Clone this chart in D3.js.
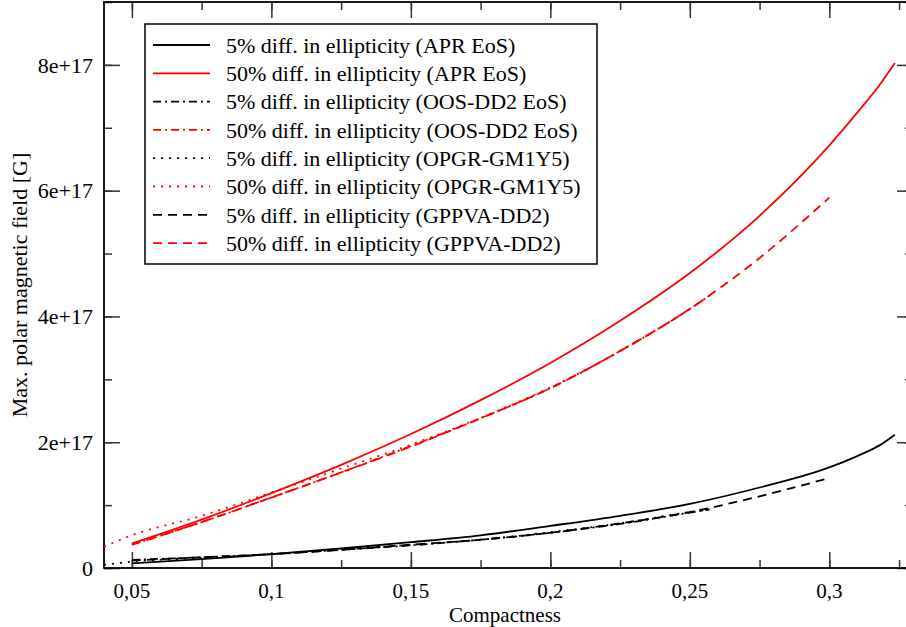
<!DOCTYPE html>
<html>
<head>
<meta charset="utf-8">
<script src="https://cdn.jsdelivr.net/npm/d3@7"></script>
<style>
  body { margin: 0; background: #fff; }
</style>
</head>
<body>
<div id="chart"></div>
<script>
// values in units of 1e17 G
const aprX      = [0.05, 0.075, 0.1, 0.125, 0.15, 0.175, 0.2, 0.225, 0.25, 0.275, 0.3, 0.31, 0.318, 0.3235];
const apr5      = [0.075, 0.14, 0.22, 0.31, 0.41, 0.52, 0.67, 0.83, 1.02, 1.28, 1.6, 1.78, 1.95, 2.12];
const apr50     = [0.39, 0.77, 1.19, 1.64, 2.13, 2.67, 3.26, 3.93, 4.69, 5.6, 6.72, 7.24, 7.68, 8.03];

const oosX      = [0.05, 0.075, 0.1, 0.125, 0.15, 0.175, 0.2, 0.225, 0.25, 0.257];
const oos5      = [0.13, 0.17, 0.22, 0.29, 0.36, 0.45, 0.56, 0.7, 0.88, 0.93];
const oos50     = [0.37, 0.73, 1.12, 1.52, 1.94, 2.38, 2.86, 3.45, 4.12, 4.33];

const opgrX     = [0.04, 0.05, 0.075, 0.1, 0.125, 0.15, 0.175, 0.2, 0.225, 0.25, 0.257];
const opgr5     = [0.05, 0.1, 0.16, 0.22, 0.29, 0.37, 0.45, 0.57, 0.71, 0.89, 0.93];
const opgr50    = [0.34, 0.52, 0.83, 1.2, 1.58, 1.96, 2.39, 2.87, 3.45, 4.12, 4.33];

const gppvaX    = [0.05, 0.075, 0.1, 0.125, 0.15, 0.175, 0.2, 0.225, 0.25, 0.275, 0.3];
const gppva5    = [0.12, 0.17, 0.22, 0.29, 0.37, 0.45, 0.56, 0.71, 0.89, 1.14, 1.43];
const gppva50   = [0.37, 0.73, 1.12, 1.52, 1.93, 2.38, 2.86, 3.45, 4.12, 4.93, 5.89];

const legendLabels = [
  "5% diff. in ellipticity (APR EoS)",
  "50% diff. in ellipticity (APR EoS)",
  "5% diff. in ellipticity (OOS-DD2 EoS)",
  "50% diff. in ellipticity (OOS-DD2 EoS)",
  "5% diff. in ellipticity (OPGR-GM1Y5)",
  "50% diff. in ellipticity (OPGR-GM1Y5)",
  "5% diff. in ellipticity (GPPVA-DD2)",
  "50% diff. in ellipticity (GPPVA-DD2)"
];

const xTicks = [0.05, 0.1, 0.15, 0.2, 0.25, 0.3];
const yTicks = [0, 2, 4, 6, 8];

const dashes = { solid: null, dashdot: "8,4,2,4", dotted: "2,6", dashed: "9,6" };

const series = [
  { x: aprX, y: apr5, color: "#000", dash: dashes.solid },
  { x: aprX, y: apr50, color: "#f00", dash: dashes.solid },
  { x: oosX, y: oos5, color: "#000", dash: dashes.dashdot },
  { x: oosX, y: oos50, color: "#f00", dash: dashes.dashdot },
  { x: opgrX, y: opgr5, color: "#000", dash: dashes.dotted },
  { x: opgrX, y: opgr50, color: "#f00", dash: dashes.dotted },
  { x: gppvaX, y: gppva5, color: "#000", dash: dashes.dashed },
  { x: gppvaX, y: gppva50, color: "#f00", dash: dashes.dashed }
];

const width = 906, height = 627;
const pl = 104, pr = 913, pt = 2, pb = 568;
const font = "'Liberation Serif', 'DejaVu Serif', 'Times New Roman', serif";

const svg = d3.select("#chart").append("svg")
  .attr("width", width).attr("height", height)
  .attr("font-family", font);

const x = d3.scaleLinear().domain([0.04, 0.33]).range([pl, pr]);
const y = d3.scaleLinear().domain([0, 9]).range([pb, pt]);

const fmtX = d => String(d).replace(".", ",");
const fmtY = d => d === 0 ? "0" : d + "e+17";

// clip for data
svg.append("clipPath").attr("id", "clip")
  .append("rect").attr("x", pl).attr("y", pt).attr("width", pr - pl).attr("height", pb - pt);

// axes (ticks inward on all sides)
const xMinor = d3.range(0.05, 0.331, 0.025);
const yMinor = d3.range(0, 9.01, 1);

svg.append("g").attr("transform", `translate(0,${pb})`)
  .call(d3.axisTop(x).tickValues(xTicks).tickSize(16).tickFormat(""));
svg.append("g").attr("transform", `translate(0,${pb})`)
  .call(d3.axisTop(x).tickValues(xMinor).tickSize(8).tickFormat(""));
svg.append("g").attr("transform", `translate(0,${pt})`)
  .call(d3.axisBottom(x).tickValues(xTicks).tickSize(16).tickFormat(""));
svg.append("g").attr("transform", `translate(0,${pt})`)
  .call(d3.axisBottom(x).tickValues(xMinor).tickSize(8).tickFormat(""));

svg.append("g").attr("transform", `translate(${pl},0)`)
  .call(d3.axisRight(y).tickValues(yTicks).tickSize(16).tickFormat(""));
svg.append("g").attr("transform", `translate(${pl},0)`)
  .call(d3.axisRight(y).tickValues(yMinor).tickSize(8).tickFormat(""));
svg.append("g").attr("transform", `translate(${pr},0)`)
  .call(d3.axisLeft(y).tickValues(yTicks).tickSize(16).tickFormat(""));
svg.append("g").attr("transform", `translate(${pr},0)`)
  .call(d3.axisLeft(y).tickValues(yMinor).tickSize(8).tickFormat(""));

svg.selectAll(".domain").remove();
svg.selectAll(".tick line").attr("stroke", "#333").attr("stroke-width", 1.5);

// tick labels
svg.append("g").selectAll("text").data(xTicks).join("text")
  .attr("x", d => x(d)).attr("y", 598)
  .attr("text-anchor", "middle").attr("font-size", 21)
  .attr("font-family", font)
  .text(fmtX);
svg.append("g").selectAll("text").data(yTicks).join("text")
  .attr("x", 93).attr("y", d => y(d)).attr("dy", "0.35em")
  .attr("text-anchor", "end").attr("font-size", 22)
  .attr("font-family", font)
  .text(fmtY);

// frame
svg.append("rect").attr("x", pl).attr("y", pt)
  .attr("width", pr - pl).attr("height", pb - pt)
  .attr("fill", "none").attr("stroke", "#000").attr("stroke-width", 1.8);

// axis titles
svg.append("text").attr("x", (pl + 906) / 2).attr("y", 622)
  .attr("text-anchor", "middle").attr("font-size", 21)
  .attr("font-family", font).text("Compactness");
svg.append("text")
  .attr("transform", `translate(27,${(pt + pb) / 2}) rotate(-90)`)
  .attr("text-anchor", "middle").attr("font-size", 22)
  .attr("font-family", font)
  .text("Max. polar magnetic field [G]");

// curves
const line = d3.line().x(d => x(d[0])).y(d => y(d[1])).curve(d3.curveMonotoneX);
svg.append("g").attr("clip-path", "url(#clip)")
  .selectAll("path").data(series).join("path")
  .attr("d", s => line(s.x.map((v, i) => [v, s.y[i]])))
  .attr("fill", "none")
  .attr("stroke", s => s.color)
  .attr("stroke-width", 1.8)
  .attr("stroke-dasharray", s => s.dash);

// legend
const lg = svg.append("g");
lg.append("rect").attr("x", 145).attr("y", 24).attr("width", 452).attr("height", 240)
  .attr("fill", "#fff").attr("stroke", "#000").attr("stroke-width", 1.5);
const rows = lg.selectAll("g.row").data(series).join("g")
  .attr("class", "row")
  .attr("transform", (d, i) => `translate(0,${45 + i * 28.3})`);
rows.append("line").attr("x1", 153).attr("x2", 210)
  .attr("stroke", d => d.color).attr("stroke-width", 1.8)
  .attr("stroke-dasharray", d => d.dash);
rows.append("text").attr("x", 226).attr("dy", "0.35em").attr("font-size", 22)
  .attr("font-family", font)
  .text((d, i) => legendLabels[i]);
</script>
</body>
</html>
